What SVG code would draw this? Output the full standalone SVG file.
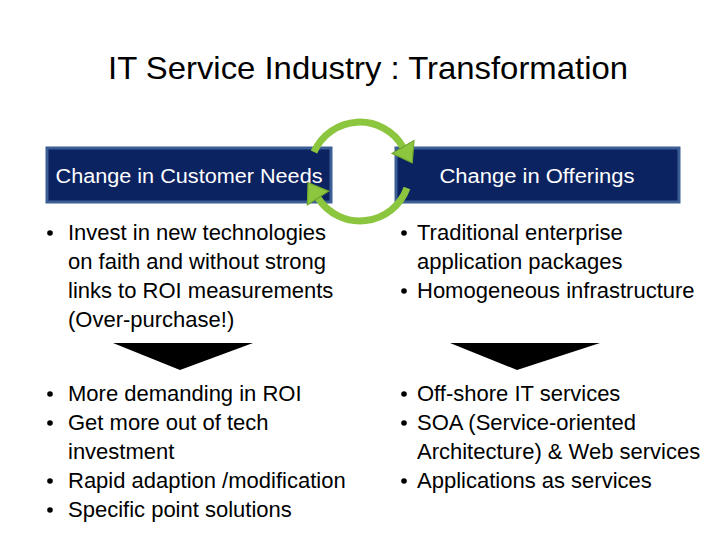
<svg xmlns="http://www.w3.org/2000/svg" width="720" height="540" viewBox="0 0 720 540">
<defs>
<style>
.title{font-family:"Liberation Sans",Arial,sans-serif;font-size:32px;fill:#000}
.body{font-family:"Liberation Sans",Arial,sans-serif;font-size:22px;fill:#000}
.hdr{font-family:"Liberation Sans",Arial,sans-serif;font-size:20px;fill:#fff;text-anchor:middle}
.box{fill:#0c2362;stroke:#3b5e95;stroke-width:3}
.tri{fill:#000}
.cyc{fill:none;stroke:#8cc63f;stroke-width:7}
.bul{fill:#000}
</style>
<marker id="ah" markerUnits="userSpaceOnUse" markerWidth="30" markerHeight="30" viewBox="-2 -13 22 26" refX="0" refY="0" orient="auto">
<path d="M0,-11 L16,0 L0,11 z" fill="#8cc63f" stroke="#6fa52f" stroke-width="1"/>
</marker>
</defs>
<rect width="720" height="540" fill="#fff"/>
<text class="title" x="368" y="79" text-anchor="middle" textLength="520" lengthAdjust="spacingAndGlyphs">IT Service Industry : Transformation</text>

<g id="needs">
<rect class="box" x="47" y="148" width="284" height="54"/>
<text class="hdr" x="189" y="183" textLength="267" lengthAdjust="spacingAndGlyphs">Change in Customer Needs</text>
</g>
<g id="offerings">
<rect class="box" x="396" y="148" width="283" height="54"/>
<text class="hdr" x="537" y="183" textLength="195" lengthAdjust="spacingAndGlyphs">Change in Offerings</text>
</g>

<g id="connectors">
<path class="cyc" d="M314,152 A50,50 0 0 1 403,147" marker-end="url(#ah)"/>
<path class="cyc" d="M407,188 A50,50 0 0 1 318,198" marker-end="url(#ah)"/>
<polygon class="tri" points="113,343 253,343 180,370"/>
<polygon class="tri" points="450,343 600,343 517,370"/>
</g>

<g id="needs-old">
<circle class="bul" cx="50" cy="233" r="2.8"/>
<text class="body" x="68" y="240">Invest in new technologies</text>
<text class="body" x="68" y="269">on faith and without strong</text>
<text class="body" x="68" y="298">links to ROI measurements</text>
<text class="body" x="68" y="327">(Over-purchase!)</text>
</g>
<g id="offerings-old">
<circle class="bul" cx="404" cy="233" r="2.8"/>
<text class="body" x="417" y="240">Traditional enterprise</text>
<text class="body" x="417" y="269">application packages</text>
<circle class="bul" cx="404" cy="291" r="2.8"/>
<text class="body" x="417" y="298">Homogeneous infrastructure</text>
</g>
<g id="needs-new">
<circle class="bul" cx="50" cy="394" r="2.8"/>
<text class="body" x="68" y="401">More demanding in ROI</text>
<circle class="bul" cx="50" cy="423" r="2.8"/>
<text class="body" x="68" y="430">Get more out of tech</text>
<text class="body" x="68" y="459">investment</text>
<circle class="bul" cx="50" cy="481" r="2.8"/>
<text class="body" x="68" y="488">Rapid adaption /modification</text>
<circle class="bul" cx="50" cy="510" r="2.8"/>
<text class="body" x="68" y="517">Specific point solutions</text>
</g>
<g id="offerings-new">
<circle class="bul" cx="404" cy="394" r="2.8"/>
<text class="body" x="417" y="401">Off-shore IT services</text>
<circle class="bul" cx="404" cy="423" r="2.8"/>
<text class="body" x="417" y="430">SOA (Service-oriented</text>
<text class="body" x="417" y="459">Architecture) &amp; Web services</text>
<circle class="bul" cx="404" cy="481" r="2.8"/>
<text class="body" x="417" y="488">Applications as services</text>
</g>
</svg>
